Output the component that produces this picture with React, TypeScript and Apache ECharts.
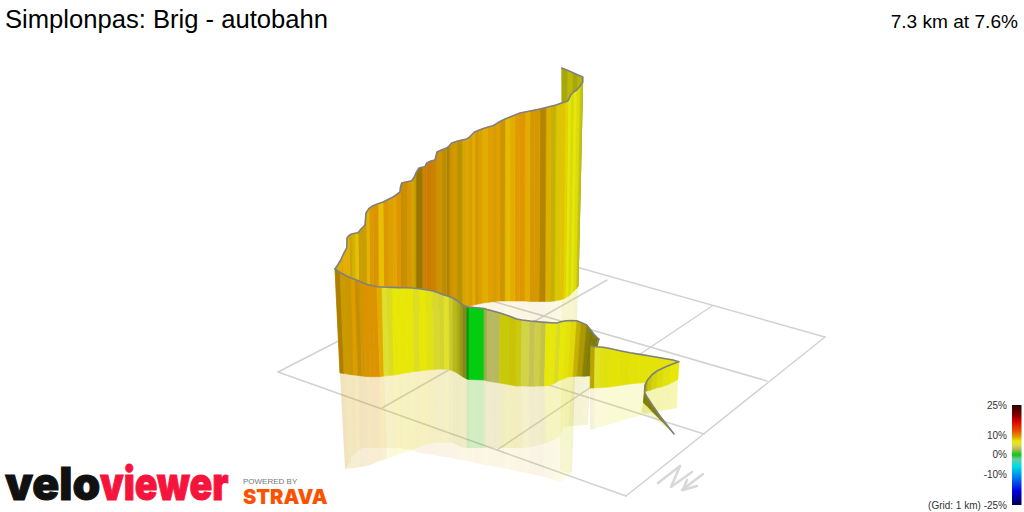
import React, { useEffect, useRef } from "react";
import * as echarts from "echarts";

const title = "Simplonpas: Brig - autobahn";
const summary = "7.3 km at 7.6%";
const legendTicks = [
  ["25%", 405],
  ["10%", 435],
  ["0%", 454],
  ["-10%", 474],
  ["(Grid: 1 km) -25%", 505],
];

// grade (%) -> colour, as on the colour bar
const gradeStops = [
  [25, "#2c0000"], [20, "#800000"], [17, "#d80000"], [12, "#e85000"], [10, "#e08800"],
  [9, "#e0a000"], [8, "#e8c000"], [7, "#e8e808"], [5, "#dcdc40"], [3, "#b8b860"],
  [1.5, "#60c030"], [0, "#04cc10"], [-2, "#70c8a0"], [-5.5, "#00e0e0"], [-11, "#0080f0"],
  [-18, "#0000e0"], [-25, "#000050"],
];

// each row: ridge x, ridge y, foot x, foot y, mirrored ridge x, mirrored ridge y
const farEdge = [
  [561.7,68,562,290,560,470],[568,70.5,566,290,563,472],[573,72.7,569,290,566,472],[578,75,573,288,569,473],
  [582.7,77,578,286,572,472],[582.7,81.7,578,286.7,572,472],[580,86,576,289,570.5,474],[576.7,90,573,292,568,477],
  [573.5,92,570.5,294.5,566,478],[570.7,95,568,296.5,564,480],[568,100.7,565.5,298,562,481],[565,102,563,299,560,481.5],
  [561.7,103,560,300,557,481],[556,105,554.5,301,552,479.5],[551,106.3,550,301.5,548,478],[546,107.5,545,301.5,543.5,476.7],
  [540,109,539,301.5,538,475.5],[535,110,534,301.5,533,474.5],[530,111,529.5,301.5,528.5,473.5],[525,112,524.5,301,524,472.5],
  [520,113,519.7,301,519,471.7],[515,115,514.7,301,514.5,470.5],[510,117,509.8,301,509.5,469.5],[505,119,504.8,301,504.5,468.5],
  [500,121.5,499.9,301,500,467.7],[496,124,496,301.3,496,467],[493,125.7,493,301.7,493,466],[488,127,488,302.3,488,465.5],
  [482,129,482,303.2,482,464.5],[478,130.5,478,304,478,463.5],[475,131.7,475,304.7,475,463],[472,134.5,472,305.5,472,462],
  [469,137.5,469,306.2,469,461.3],[466.7,139,466.7,306.7,466.7,461],[462,140,462,307,462,460],[457,141.2,457,307,457,459.5],
  [451.7,143,451.7,307.5,451.7,458],[449,146,449,307.7,449,457.5],[446.7,148,446.7,308,446.7,457],[442,149.7,442,308.5,442,456.5],
  [437,152,437,309,437,456],[436,156,436,309,436,455],[435,160,435,309,435,454.5],[431,161,431,309.5,431,454.5],
  [426.7,163,426.7,310,426.7,454],[425,166.7,425,310,425,453.5],[422,167.3,422,310.5,422,453.5],[419,168,419,311,419,453],
  [416,173,416,311,416,452],[414,177.5,414,312,414,451],[411.7,180.7,412,313,412,450],[407,181.7,407.5,314,407.5,449.5],
  [401.7,183,402,316,402,449],[400.5,187,401,316.5,401,448],[400,192,400.5,317,400.5,448],[396,195,396.5,319,396.5,448],
  [393,197,394,320,394,448],[388,199.5,389,322,389,448],[383,202,384,325,384,448],[378,203.8,379,327,379,448],
  [373,205.7,374,329,374,448],[369,208.5,370,332,370,448],[366,213,367,335,367,448],[365.5,219,366.5,335,366.5,448],
  [365,225,366,336,366,448],[361,229,362,339,362,448],[358,232.7,359.5,342,359.5,450],[355,233.3,356.5,345,357,452],
  [351.7,234,353.5,350,354,454],[349,235.5,351.5,352,352,456],[347,238,350,355,351,458],[347,243,350,356,351,460],
  [346.7,248,350,358,351,462],[343.5,254,346.5,362,348.5,464],[340.7,260,344,366,347,466],[338,264.5,342,370,346,468],
  [335,269,340,373,345,469],
];
// each row: grade %, light on that strip
const farTone = [
  [7,.72],[7,.8],[7,.72],[7,.78],[7,.7],[6.5,.85],[6.8,.95],[7,1],
  [6.6,.95],[7,1],[7.4,.98],[7.8,.98],[7.6,.95],[7.6,.85],[8.2,.95],[8.8,.8],
  [9,.95],[9,.95],[8.6,1],[9.4,1],[9.2,1],[8.6,1],[8.2,1],[8.8,.9],
  [9,1],[8.8,.95],[9,1],[8.6,1],[8.8,.97],[9,.95],[8.6,1],[8.8,.95],
  [8.6,.98],[8.6,.95],[8,.78],[9,.95],[9,.9],[8.8,.78],[8.6,.82],[9,.92],
  [9.6,.95],[9.6,.95],[9.6,.9],[10,.92],[10,.92],[9.5,.9],[8.6,.68],[8.6,.68],
  [8,.82],[8.6,.95],[9,.95],[9,.9],[9,.85],[9.4,1],[9.4,1],[8.8,1],
  [9,1],[9.2,.98],[8,1],[9.4,.98],[9,.97],[8.4,1],[8.6,.9],[8.6,.9],
  [8.4,.88],[8.4,.88],[8,1],[8,.92],[8.2,.88],[8.5,1],[8.5,1],[8.5,1],
  [8.5,1],[8.5,.97],[8.5,.97],[8.5,.95],[8.5,1],
];

const nearEdge = [
  [335,269,340,373,345,469],[340,272.5,344,373.5,348.5,468.5],[346.7,276,350,374.5,354,468],[351,278,354,375,357,467.5],
  [355,279.5,358,375.5,360,467],[359,281,362,376,363,466.7],[363,283,366,376.5,368,465.5],[368,284.7,371,376.7,373,464],
  [372,285.5,375,376.7,377,462],[376.7,286.7,380,376.7,383,460],[382,287,384,376,387,458.5],[387,287.2,389,375.5,392,457],
  [392,287.4,394,375,397,455],[398,287.6,400,374,403,453],[406.7,287.7,408,372.5,410,451],[413,288,414,371.5,415,449],
  [419,288.8,420,371,421,446.5],[426,289.8,427,370,427,444.5],[433,291,434,369.5,433,443],[439,293,440,369,439,442.5],
  [444,295,444.5,369.2,444,442.5],[449,296.5,449.5,369.7,449,442.8],[453,298,453,371,453,443],[457,300.5,457,373,457,445],
  [460,303,460,375,460,446.5],[463,305,463,377,463,447.5],[466.7,306.7,466.7,379,466.7,448],[469,307,469,379.5,469,448],
  [484,308.5,484,380,484,448],[487,309.5,487,381,487,448],[493,311,492.7,382,493,448],[500,313,499.5,383,500,448],
  [509,316,508.5,384.5,509,448],[516.7,319,516,386,516.7,448],[522,320,521,386,522,448],[530,321,529,386.2,530,447],
  [535,321.4,534,386.2,535,446],[541,322,539.5,386,541,444.5],[546,322.4,544.5,386,546.7,443],[551,322.7,549.5,385.5,551,441],
  [556.7,323,554,383.5,556,438.5],[561,321.8,558.5,381,559.5,436.7],[566,320.8,563,379,562,431],[571,320.5,568,377,564,427],
  [576.7,320.7,573,376.5,568,426.5],[581,322.5,577,376.2,573,426],[586.7,325,582,376.2,578,425.5],[590,329,585,376.2,582,425.3],
  [593,333,587.5,376,585,425],[596,336.5,589.5,376,587,425],[599,339,590,376,588,425],[596.7,343,590,376,588,425],
];
const nearTone = [
  [9,.78],[8.5,.88],[8.8,.9],[9,.98],[9,.88],[9,.93],[9.4,.98],[9.4,.98],
  [9.4,.98],[8.6,1],[5.5,1],[6,.97],[7,1],[7,1],[7,1],[6,.98],
  [7,1],[6.6,.98],[5.5,.97],[5.5,.95],[5.8,1],[5.5,.9],[6,.82],[6,.76],
  [6,.68],[5.5,.6],[0,.75],[0,1],[2.5,.95],[3,1],[3,1],[6.8,.87],
  [7.2,.87],[6.5,.88],[4.5,1],[3.6,1],[4.5,.98],[4.2,.95],[7,1],[6.9,1],
  [6,.97],[7,1],[6.9,.98],[7.2,.97],[7.6,.85],[7.6,.74],[7.4,.6],[7.2,.55],
  [7.2,.55],[7.4,.55],[7,.55],[7,.55],
];

const panelEdge = [
  [590.7,346,590,388,590,430],[595,346.7,594.5,388,594.5,429],[600,347,599.5,387.8,599,427.5],[603,347.2,602.5,387.6,602.5,426.5],
  [610,348.5,609.5,387,609,424.5],[620,350.7,619.5,385.5,619,421.5],[630,352.7,629.5,384,629,418.5],[640,354.4,639.5,383,639,416],
  [650,356,649.5,382.5,648,414],[660,357.8,659.5,381.5,658,412],[673,360,672.5,380,672,409],[678.7,361.7,677.7,379.5,677,408],
];
const panelTone = [
  [7.6,.8],[6,1],[6.5,.98],[6.8,.97],[7,.98],[7,.97],[7,.98],[7,.98],[7,.98],[7,.98],[7,.98],[7,.98],
];

const tailEdge = [
  [678.7,361.7,677.7,379.5,677,408],[670,365,669.5,384,669,409.5],[663,368,662.5,386.5,662,410],[657,371,656.5,388,656,411],
  [651.7,375,651,390,650.5,412],[647.5,380,647,391,646.5,413],[645,385,644.5,392,644,414],[644.5,392,643.5,403,641,412],
  [647,397,647,406,646,414],[653,406,652.5,412,652,418],[660,416,659.5,419,659,423],[667,425,667,426.5,667,428],
  [674,434,674,434,674,434],
];
const tailTone = [
  [7,1],[6.8,.98],[7,.95],[6.8,.92],[7,.86],[7,.75],[7,.55],[7,.55],[7,.55],[7,.55],[7,.55],[7,.55],[7,.55],
];

// floor grid, ends of each line
const floorLines = [
  [278,372,626,496],[365,327,704,434],[444,287,767,381],[516,250,825,337],
  [278,372,516,250],[382,408,607,280],[497,450,712,306],[626,496,825,337],
];
const northN = [[658,483],[680,466],[671,487],[692,472]];
const northShaft = [[703,474],[682,490]];
const northHead = [[687,480],[683,490],[697,486]];

const hexRgb = (h: string) => [1, 3, 5].map((i) => parseInt(h.slice(i, i + 2), 16));

function gradeColor(g: number, light = 1) {
  let rgb = hexRgb(gradeStops[gradeStops.length - 1][1] as string);
  for (let i = 0; i < gradeStops.length - 1; i++) {
    const [g1, c1] = gradeStops[i] as [number, string];
    const [g2, c2] = gradeStops[i + 1] as [number, string];
    if (g <= g1 && g >= g2) {
      const t = (g1 - g) / (g1 - g2);
      const a = hexRgb(c1), b = hexRgb(c2);
      rgb = a.map((v, k) => v + (b[k] - v) * t);
      break;
    }
  }
  return `rgb(${rgb.map((v) => Math.round(v * light)).join(",")})`;
}

function strips(edge: number[][], tone: number[][]) {
  const rows: number[][] = [];
  for (let i = 0; i < edge.length - 1; i++) {
    rows.push([...edge[i], ...edge[i + 1], tone[i][0], tone[i][1]]);
  }
  return rows;
}

const wallSeries = (edge: number[][], tone: number[][], z: number) => ({
  type: "custom",
  silent: true,
  clip: false,
  z,
  data: strips(edge, tone),
  renderItem: (_: any, api: any) => {
    const p = (a: number, b: number) => api.coord([api.value(a), api.value(b)]);
    const fill = gradeColor(api.value(12), api.value(13));
    return {
      type: "polygon",
      shape: { points: [p(0, 1), p(6, 7), p(8, 9), p(2, 3)] },
      style: { fill, stroke: fill, lineWidth: 0.6 },
    };
  },
});

const mirrorSeries = (edge: number[][], tone: number[][], opacity: number, z: number) => ({
  type: "custom",
  silent: true,
  clip: false,
  z,
  data: strips(edge, tone),
  renderItem: (_: any, api: any) => {
    const p = (a: number, b: number) => api.coord([api.value(a), api.value(b)]);
    return {
      type: "polygon",
      shape: { points: [p(2, 3), p(8, 9), p(10, 11), p(4, 5)] },
      style: { fill: gradeColor(api.value(12), Math.max(api.value(13), 0.85)), opacity },
    };
  },
});

const pathSeries = (data: number[][], color: string, width: number, z: number) => ({
  type: "line",
  silent: true,
  showSymbol: false,
  symbol: "none",
  z,
  data,
  lineStyle: { color, width, cap: "round", join: "round" },
});

const ridgeSeries = (edge: number[][], z: number) => pathSeries(edge.map((r) => [r[0], r[1]]), "#808080", 1.6, z);

export default function App() {
  const ref = useRef<HTMLDivElement>(null);
  useEffect(() => {
    document.body.style.margin = "0";
    const chart = echarts.init(ref.current!, undefined, { renderer: "svg" });
    chart.setOption({
      animation: false,
      backgroundColor: "#ffffff",
      grid: { left: 0, right: 0, top: 0, bottom: 0 },
      xAxis: { type: "value", min: 0, max: 1024, show: false },
      yAxis: { type: "value", min: 0, max: 512, inverse: true, show: false },
      series: [
        ...floorLines.map((l) => pathSeries([[l[0], l[1]], [l[2], l[3]]], "#d2d2d2", 1.5, 1)),
        pathSeries(northN, "#d8d8d8", 2.6, 1),
        pathSeries(northShaft, "#d8d8d8", 2.6, 1),
        pathSeries(northHead, "#d8d8d8", 2.6, 1),
        mirrorSeries(farEdge, farTone, 0.1, 2),
        mirrorSeries(nearEdge, nearTone, 0.17, 3),
        mirrorSeries(panelEdge, panelTone, 0.17, 4),
        mirrorSeries(tailEdge, tailTone, 0.17, 5),
        wallSeries(farEdge, farTone, 6),
        ridgeSeries(farEdge, 7),
        wallSeries(nearEdge, nearTone, 8),
        ridgeSeries(nearEdge, 9),
        wallSeries(panelEdge, panelTone, 10),
        ridgeSeries(panelEdge, 11),
        wallSeries(tailEdge, tailTone, 12),
        ridgeSeries(tailEdge, 13),
      ],
      graphic: [
        { type: "text", x: 5, y: 19, style: { text: title, font: '25.6px "Liberation Sans"', fill: "#000", textVerticalAlign: "middle" } },
        { type: "text", x: 1018, y: 21, style: { text: summary, font: '19.1px "Liberation Sans"', fill: "#000", textAlign: "right", textVerticalAlign: "middle" } },
        ...legendTicks.map(([t, y]) => ({
          type: "text", x: 1007, y: y as number,
          style: { text: t as string, font: '10px "Liberation Sans"', fill: "#333", textAlign: "right", textVerticalAlign: "middle" },
        })),
        {
          type: "rect",
          shape: { x: 1012, y: 405, width: 9.5, height: 100 },
          style: {
            fill: new echarts.graphic.LinearGradient(0, 0, 0, 1,
              gradeStops.map((s) => ({ offset: (25 - (s[0] as number)) / 50, color: s[1] as string }))),
          },
        },
        { type: "text", x: 5, y: 506, scaleX: 0.967, style: { text: "velo", font: '900 46px "Inter"', fill: "#111", stroke: "#111", lineWidth: 1, textVerticalAlign: "bottom" } },
        { type: "text", x: 100, y: 506, scaleX: 0.814, style: { text: "viewer", font: '900 46px "Inter"', fill: "#f5143c", stroke: "#f5143c", lineWidth: 1, textVerticalAlign: "bottom" } },
        { type: "text", x: 243, y: 481, style: { text: "POWERED BY", font: '8px "Liberation Sans"', fill: "#777", textVerticalAlign: "middle" } },
        { type: "text", x: 243, y: 497, style: { text: "STRAVA", font: '900 20px "Inter"', fill: "#fc5200", textVerticalAlign: "middle" } },
      ],
    });
    return () => chart.dispose();
  }, []);
  return <div ref={ref} style={{ position: "absolute", left: 0, top: 0, width: 1024, height: 512 }} />;
}
